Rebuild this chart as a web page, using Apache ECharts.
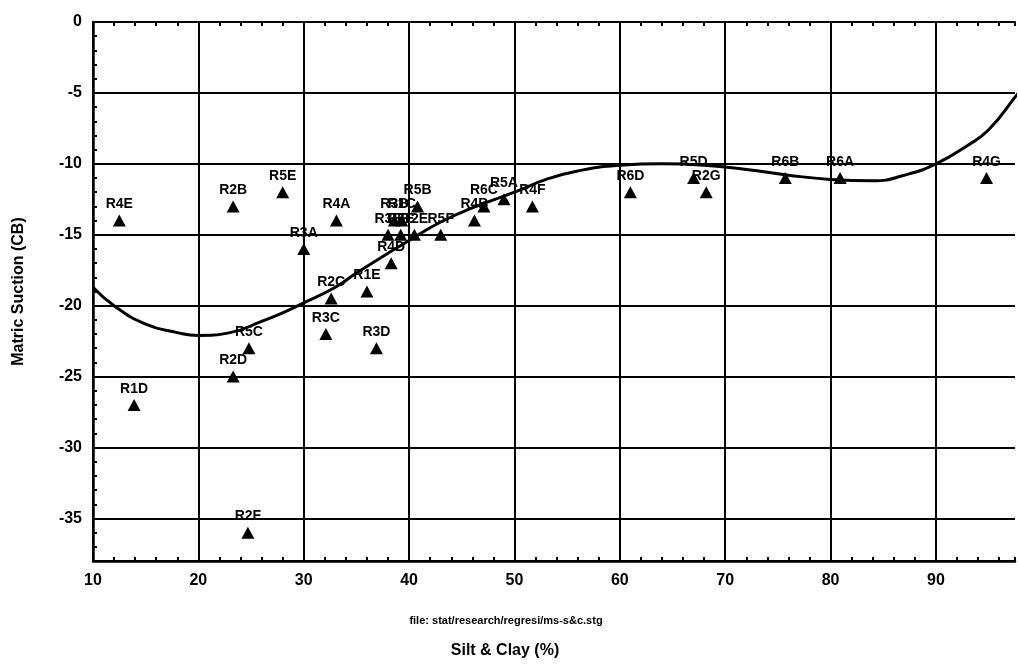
<!DOCTYPE html>
<html>
<head>
<meta charset="utf-8">
<script src="https://cdn.jsdelivr.net/npm/echarts@6/dist/echarts.min.js"></script>
<style>
html, body { margin: 0; padding: 0; background: #fff; }
#chart { width: 1018px; height: 667px; }
</style>
</head>
<body>
<div id="chart"></div>
<script>
// sample sites: name, silt & clay (%), matric suction (CB)
var siteNames = ['R4E', 'R1D', 'R2B', 'R2D', 'R2F', 'R5C', 'R5E', 'R3A', 'R3C', 'R2C',
	'R4A', 'R1E', 'R3D', 'R3E', 'R4D', 'R3B', 'R1C', 'R6E', 'R2E', 'R5B',
	'R5F', 'R4B', 'R6C', 'R5A', 'R4F', 'R6D', 'R5D', 'R2G', 'R6B', 'R6A', 'R4G'];
var siltClay = [12.5, 13.9, 23.3, 23.3, 24.7, 24.8, 28.0, 30.0, 32.1, 32.6,
	33.1, 36.0, 36.9, 38.0, 38.3, 38.6, 39.3, 39.2, 40.5, 40.8,
	43.0, 46.2, 47.1, 49.0, 51.7, 61.0, 67.0, 68.2, 75.7, 80.9, 94.8];
var suction = [-14, -27, -13, -25, -36, -23, -12, -16, -22, -19.5,
	-14, -19, -23, -15, -17, -14, -14, -15, -15, -13,
	-15, -14, -13, -12.5, -13, -12, -11, -12, -11, -11, -11];

// regression curve
var fitX = [10, 12, 15, 18, 20, 23, 26, 28, 30, 33, 35, 38, 40, 43, 46, 50, 53, 56, 60,
	64, 68, 72, 76, 80, 84, 87, 90, 93, 95, 97.5, 99];
var fitY = [-18.7, -20.0, -21.3, -21.9, -22.1, -21.9, -21.1, -20.5, -19.8, -18.7, -17.7,
	-16.3, -15.4, -14.1, -13.1, -12.0, -11.1, -10.5, -10.1, -10.0, -10.1, -10.4, -10.8,
	-11.1, -11.2, -10.8, -10.0, -8.7, -7.6, -5.3, -3.8];

var xTickLabels = [10, 20, 30, 40, 50, 60, 70, 80, 90];
var yTickLabels = [0, -5, -10, -15, -20, -25, -30, -35];

var FONT = 'Liberation Sans';
var X_MAX = 97.5; // the picture is cropped here

var chart = echarts.init(document.getElementById('chart'));

var points = [];
for (var i = 0; i < siteNames.length; i++) {
	points.push([siltClay[i], suction[i], siteNames[i]]);
}
var curve = [];
for (var j = 0; j < fitX.length; j++) {
	curve.push([fitX[j], fitY[j]]);
}

var option = {
	backgroundColor: '#fff',
	animation: false,
	grid: { left: 93, right: 0, top: 22, bottom: 106 },
	xAxis: [{
		type: 'value',
		position: 'bottom',
		min: 10,
		max: X_MAX,
		interval: 10,
		axisLine: { show: true, onZero: false, lineStyle: { color: '#000', width: 2.5 } },
		axisTick: { show: true, inside: true, length: 4, lineStyle: { color: '#000', width: 2 } },
		minorTick: { show: true, splitNumber: 5, length: 4, lineStyle: { color: '#000', width: 2 } },
		splitLine: { show: true, showMaxLine: false, lineStyle: { color: '#000', width: 2 } },
		axisLabel: {
			color: '#000', fontFamily: FONT, fontWeight: 'bold', fontSize: 16, margin: 12,
			formatter: function(v) { return xTickLabels.indexOf(v) >= 0 ? String(v) : ''; }
		}
	}, {
		type: 'value',
		position: 'top',
		min: 10,
		max: X_MAX,
		interval: 10,
		axisLine: { show: true, onZero: false, lineStyle: { color: '#000', width: 2 } },
		axisTick: { show: true, inside: true, length: 4, lineStyle: { color: '#000', width: 2 } },
		minorTick: { show: true, splitNumber: 5, length: 4, lineStyle: { color: '#000', width: 2 } },
		splitLine: { show: false },
		axisLabel: { show: false }
	}],
	yAxis: {
		type: 'value',
		min: -38,
		max: 0,
		splitNumber: 8,
		name: 'Matric Suction (CB)',
		nameLocation: 'middle',
		nameGap: 66,
		nameTextStyle: { color: '#000', fontFamily: FONT, fontWeight: 'bold', fontSize: 16 },
		axisLine: { show: true, onZero: false, lineStyle: { color: '#000', width: 2.5 } },
		axisTick: { show: true, inside: true, length: 4, lineStyle: { color: '#000', width: 2 } },
		minorTick: { show: true, splitNumber: 5, length: 4, lineStyle: { color: '#000', width: 2 } },
		splitLine: { show: true, lineStyle: { color: '#000', width: 2 } },
		axisLabel: {
			color: '#000', fontFamily: FONT, fontWeight: 'bold', fontSize: 16, margin: 11,
			formatter: function(v) { return yTickLabels.indexOf(v) >= 0 ? String(v) : ''; }
		}
	},
	graphic: [{
		type: 'text',
		style: {
			x: 506, y: 621, text: 'file: stat/research/regresi/ms-s&c.stg',
			textAlign: 'center', textVerticalAlign: 'middle',
			fill: '#000', font: 'bold 11px "Liberation Sans"'
		}
	}, {
		type: 'text',
		style: {
			x: 505, y: 651, text: 'Silt & Clay (%)',
			textAlign: 'center', textVerticalAlign: 'middle',
			fill: '#000', font: 'bold 16px "Liberation Sans"'
		}
	}],
	series: [{
		name: 'sites',
		type: 'scatter',
		data: points,
		symbol: 'triangle',
		symbolSize: [13, 12],
		itemStyle: { color: '#000', opacity: 1 },
		label: {
			show: true,
			position: 'top',
			distance: 3,
			color: '#000',
			fontFamily: FONT,
			fontWeight: 'bold',
			fontSize: 14,
			formatter: function(p) { return p.data[2]; }
		},
		z: 3
	}, {
		name: 'fit',
		type: 'line',
		data: curve,
		smooth: true,
		showSymbol: false,
		lineStyle: { color: '#000', width: 3 },
		z: 4
	}]
};

chart.setOption(option);
</script>
</body>
</html>
